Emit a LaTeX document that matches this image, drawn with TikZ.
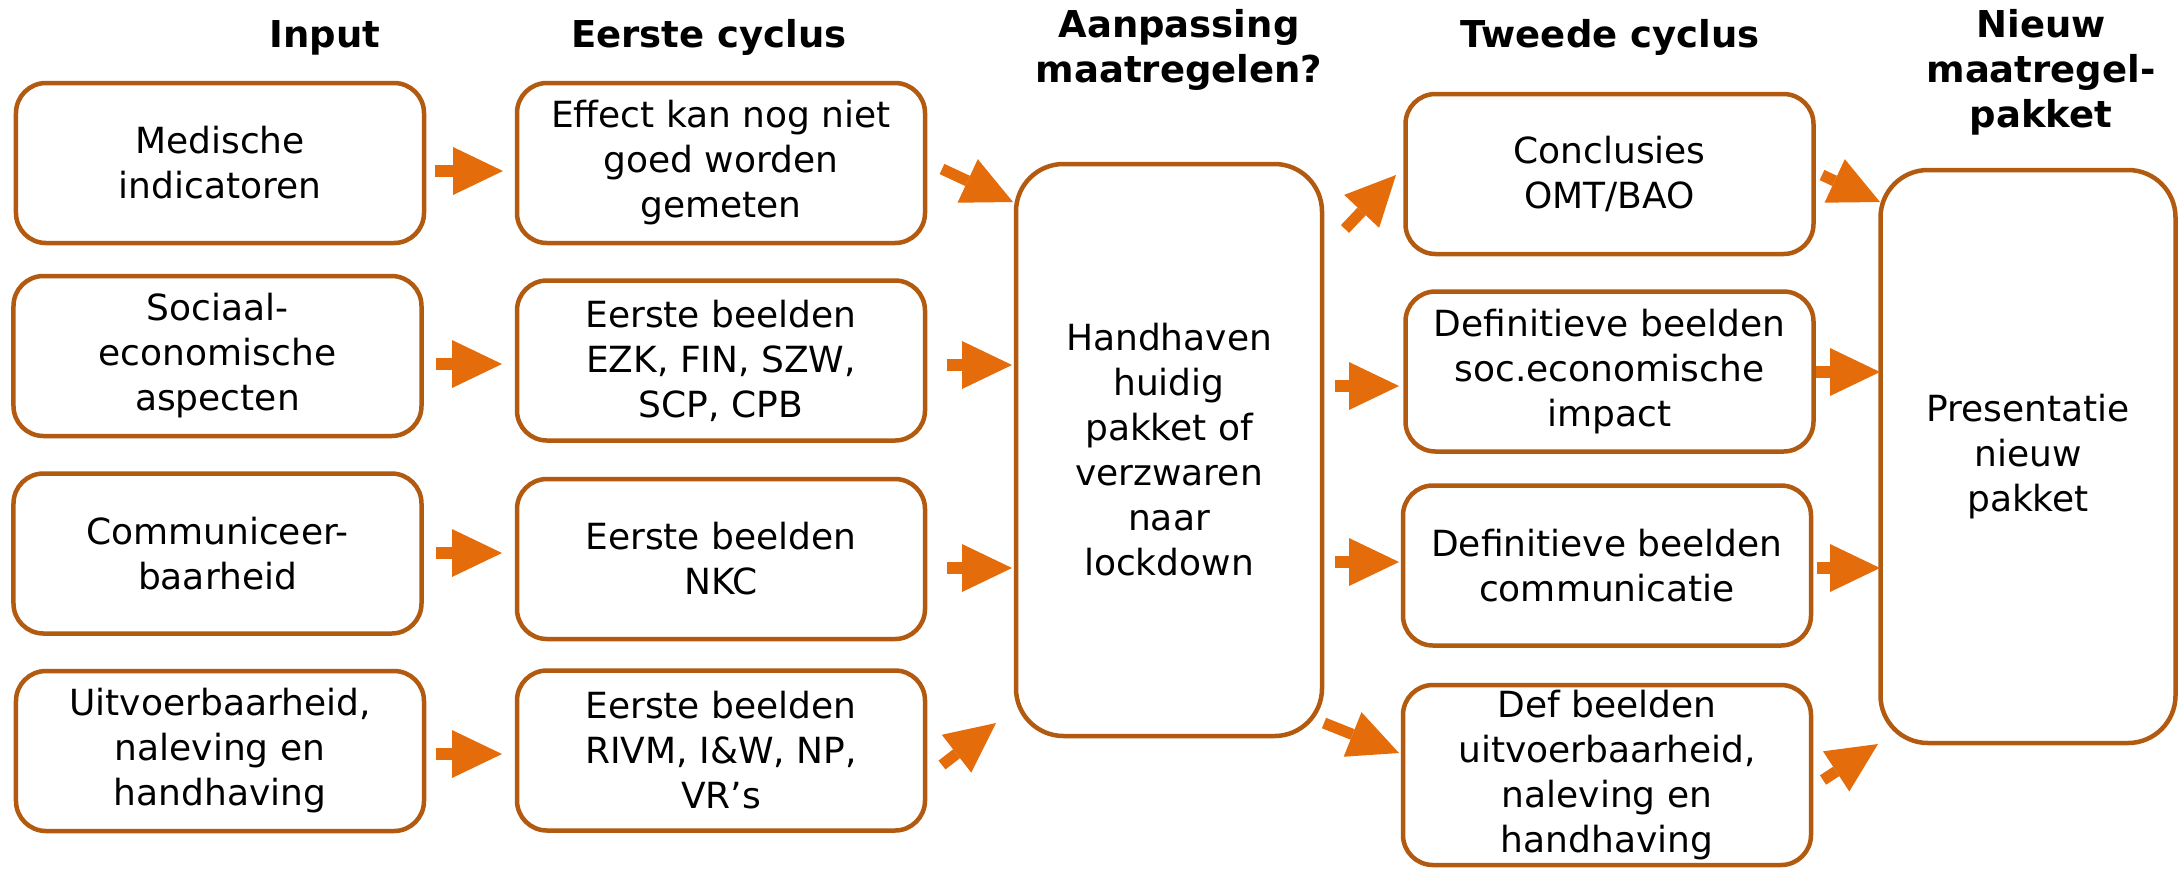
\documentclass[tikz,border=0pt]{standalone}
\usepackage{fontspec}
\setmainfont{DejaVu Sans}
\usetikzlibrary{arrows.meta}
\definecolor{boxc}{RGB}{178,90,16}
\definecolor{arrc}{RGB}{228,108,10}
\begin{document}
\begin{tikzpicture}[x=0.4pt,y=-0.4pt,
  box/.style={draw=boxc, line width=1.8pt, rounded corners=12pt, fill=white, align=center,
    font=\fontsize{14.4}{18}\selectfont, inner sep=0pt, minimum width=163.2pt, minimum height=64pt},
  bigbox/.style={box, rounded corners=19pt},
  head/.style={font=\bfseries\fontsize{14.8}{18}\selectfont, align=center, inner sep=0pt},
  fat/.style={draw=arrc, line width=4.5pt, -{Triangle[length=20pt,width=19.2pt,line width=0pt]}}]
\useasboundingbox (0,0) rectangle (2181,869);

% headers (base anchor = baseline of the last line)
\node[head, anchor=base] (hin) at (325,47) {Input};
\node[head, anchor=base] (he1) at (709,47) {Eerste cyclus};
\node[head, anchor=base] (hap) at (1179,82) {Aanpassing\\maatregelen?};
\node[head, anchor=base] (he2) at (1610,47) {Tweede cyclus};
\node[head, anchor=base] (hnm) at (2041,127) {Nieuw\\maatregel-\\pakket};

% input column
\node[box] (i1) at (220,163) {Medische\\indicatoren};
\node[box] (i2) at (217.5,356) {Sociaal-\\economische\\aspecten};
\node[box] (i3) at (217.5,553.5) {Communiceer-\\baarheid};
\node[box] (i4) at (220,751) {Uitvoerbaarheid,\\naleving en\\handhaving};

% first cycle
\node[box] (e1) at (721,163) {Effect kan nog niet\\goed worden\\gemeten};
\node[box] (e2) at (721,360.5) {Eerste beelden\\EZK, FIN, SZW,\\SCP, CPB};
\node[box] (e3) at (721,559) {Eerste beelden\\NKC};
\node[box] (e4) at (721,750.5) {Eerste beelden\\RIVM, I\&W, NP,\\VR’s};

% middle
\node[bigbox, minimum width=122.4pt, minimum height=228.8pt] (m) at (1169,450)
  {Handhaven\\huidig\\pakket of\\verzwaren\\naar\\lockdown};

% second cycle
\node[box] (t1) at (1609.5,174) {Conclusies\\OMT/BAO};
\node[box] (t2) at (1609.5,371.5) {Definitieve beelden\\soc.economische\\impact};
\node[box] (t3) at (1607,565.5) {Definitieve beelden\\communicatie};
\node[box, minimum height=72pt] (t4) at (1607,775) {Def beelden\\uitvoerbaarheid,\\naleving en\\handhaving};

% result
\node[bigbox, minimum width=118pt, minimum height=229.2pt] (r) at (2028,456.5)
  {Presentatie\\nieuw\\pakket};

% arrow end points
\coordinate (a1s) at (435,171);  \coordinate (a1e) at (503,171);
\coordinate (a2s) at (436,364);  \coordinate (a2e) at (502,364);
\coordinate (a3s) at (436,553);  \coordinate (a3e) at (502,553);
\coordinate (a4s) at (436,754);  \coordinate (a4e) at (502,754);
\coordinate (b1s) at (942,169);  \coordinate (b1e) at (1013,202);
\coordinate (b2s) at (947,365);  \coordinate (b2e) at (1012,365);
\coordinate (b3s) at (947,568);  \coordinate (b3e) at (1012,568);
\coordinate (b4s) at (942,765);  \coordinate (b4e) at (996,723);
\coordinate (c1s) at (1345,229); \coordinate (c1e) at (1396,175);
\coordinate (c2s) at (1335,386); \coordinate (c2e) at (1399,386);
\coordinate (c3s) at (1335,562); \coordinate (c3e) at (1399,562);
\coordinate (c4s) at (1324,723); \coordinate (c4e) at (1399,753);
\coordinate (d1s) at (1822,175); \coordinate (d1e) at (1880,202);
\coordinate (d2s) at (1816,372); \coordinate (d2e) at (1880,372);
\coordinate (d3s) at (1817,568); \coordinate (d3e) at (1880,568);
\coordinate (d4s) at (1823,780); \coordinate (d4e) at (1878,744);

\foreach \p in {a1,a2,a3,a4,b1,b2,b3,b4,c1,c2,c3,c4,d1,d2,d3,d4}
  \draw[fat] (\p s) -- (\p e);
\end{tikzpicture}
\end{document}
